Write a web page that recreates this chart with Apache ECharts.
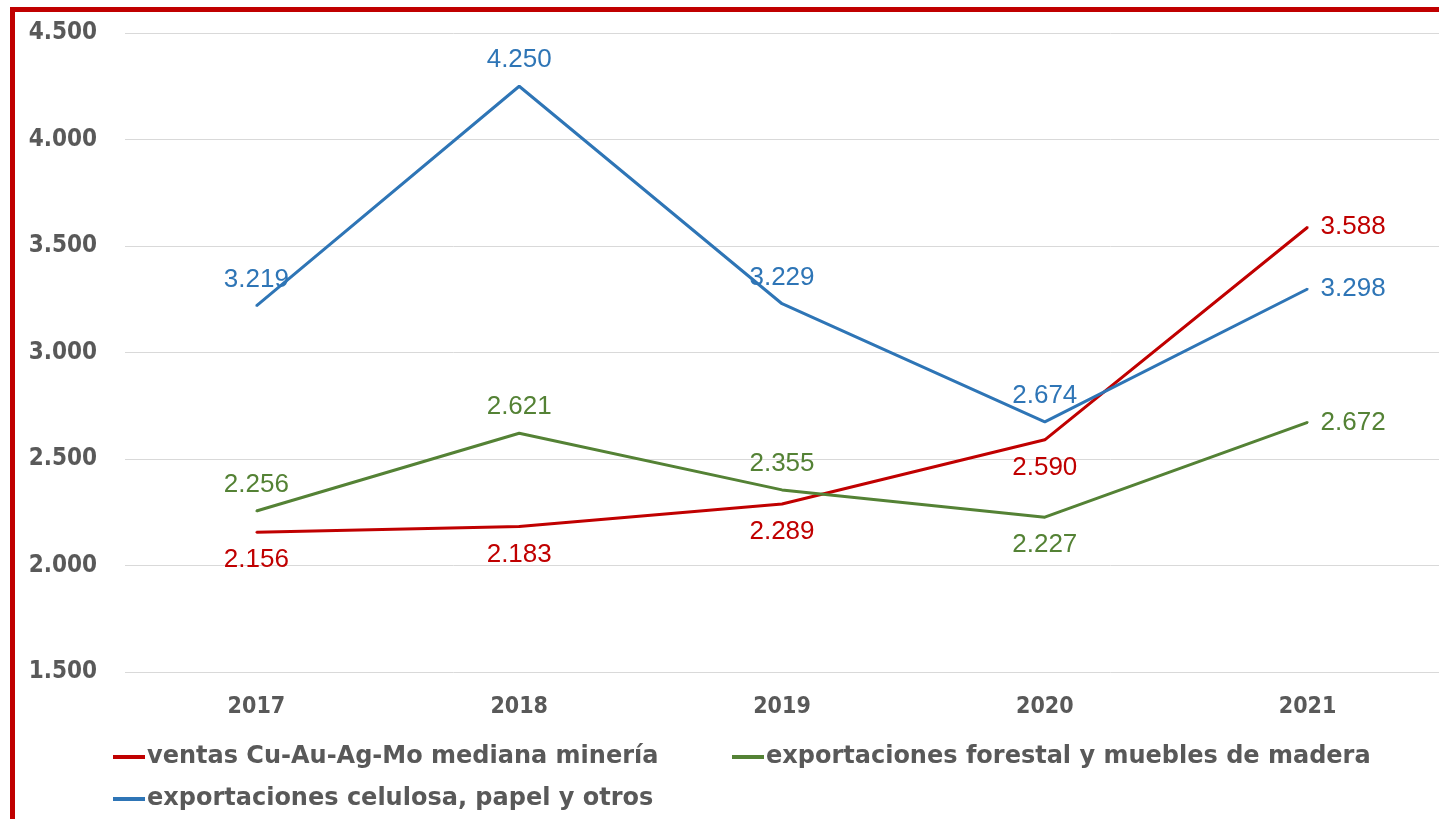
<!DOCTYPE html>
<html>
<head>
<meta charset="utf-8">
<script src="https://cdn.jsdelivr.net/npm/echarts@6/dist/echarts.min.js"></script>
<style>
    html, body { margin: 0; padding: 0; background: #fff; }
    #wrap { position: relative; width: 1439px; height: 819px; overflow: hidden; }
    #chart { width: 1439px; height: 819px; }
    /* marco rojo arriba e izquierda */
    #frame { position: absolute; left: 10px; top: 7px; right: -20px; bottom: -20px;
             border-top: 5px solid #C00000; border-left: 5px solid #C00000; pointer-events: none; }
</style>
</head>
<body>
<div id="wrap">
    <div id="chart"></div>
    <div id="frame"></div>
</div>
<script>
// datos
var years = ['2017', '2018', '2019', '2020', '2021'];
var mineria = [2156, 2183, 2289, 2590, 3588];
var forestal = [2256, 2621, 2355, 2227, 2672];
var celulosa = [3219, 4250, 3229, 2674, 3298];

var nameMineria = 'ventas Cu-Au-Ag-Mo mediana minería';
var nameForestal = 'exportaciones forestal y muebles de madera';
var nameCelulosa = 'exportaciones celulosa, papel y otros';

var FONT_BOLD = '"DejaVu Sans Condensed", "DejaVu Sans", sans-serif';
var FONT_LEG = '"DejaVu Sans", sans-serif';
var FONT_LBL = '"Liberation Sans", Arial, sans-serif';
var GREY = '#595959';

function fmt (v) {
    return String(v).replace(/\B(?=(\d{3})+(?!\d))/g, '.');
}

// posiciones de etiqueta por punto
function withLabels (values, positions) {
    return values.map(function (v, i) {
        var pos = positions[i];
        return {
            value: v,
            label: { position: pos, distance: pos === 'right' ? 12 : (pos === 'bottom' ? 14 : 12) }
        };
    });
}

function lineSeries (name, values, positions, color) {
    return {
        name: name,
        type: 'line',
        data: withLabels(values, positions),
        showSymbol: true,
        symbol: 'circle',
        symbolSize: 2,
        lineStyle: { color: color, width: 3 },
        itemStyle: { color: color },
        label: {
            show: true,
            color: color,
            fontFamily: FONT_LBL,
            fontSize: 26,
            formatter: function (p) { return fmt(p.value); }
        }
    };
}

function legendAt (name, left, top) {
    return {
        data: [name],
        left: left,
        top: top,
        icon: 'rect',
        itemWidth: 32,
        itemHeight: 4,
        textStyle: { color: GREY, fontFamily: FONT_LEG, fontSize: 24, fontWeight: 'bold', padding: [0, 0, 0, -3] }
    };
}

var chart = echarts.init(document.getElementById('chart'));
chart.setOption({
    backgroundColor: '#fff',
    animation: false,
    grid: { left: 125, top: 33, width: 1319, height: 639, containLabel: false },
    legend: [
        legendAt(nameMineria, 108, 740),
        legendAt(nameForestal, 727, 740),
        legendAt(nameCelulosa, 108, 782)
    ],
    xAxis: {
        type: 'category',
        data: years,
        boundaryGap: true,
        axisLine: { show: false },
        axisTick: { show: false },
        axisLabel: { color: GREY, fontFamily: FONT_BOLD, fontSize: 23, fontWeight: 'bold', margin: 24 }
    },
    yAxis: {
        type: 'value',
        min: 1500,
        max: 4500,
        interval: 500,
        axisLine: { show: false },
        axisTick: { show: false },
        splitLine: { lineStyle: { color: '#D9D9D9', width: 1 } },
        axisLabel: {
            color: GREY, fontFamily: FONT_BOLD, fontSize: 24, fontWeight: 'bold', margin: 28,
            padding: [3, 0, 0, 0],
            formatter: function (v) { return fmt(v); }
        }
    },
    series: [
        lineSeries(nameMineria, mineria, ['bottom', 'bottom', 'bottom', 'bottom', 'right'], '#C00000'),
        lineSeries(nameForestal, forestal, ['top', 'top', 'top', 'bottom', 'right'], '#548235'),
        lineSeries(nameCelulosa, celulosa, ['top', 'top', 'top', 'top', 'right'], '#2E75B6')
    ]
});
</script>
</body>
</html>
